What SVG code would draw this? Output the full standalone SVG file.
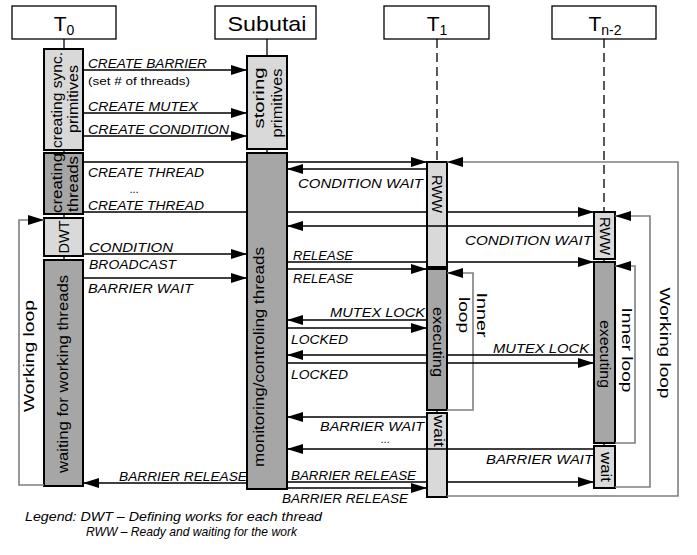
<svg xmlns="http://www.w3.org/2000/svg" width="697" height="555" viewBox="0 0 697 555">
<defs>
<marker id="ah" markerUnits="userSpaceOnUse" markerWidth="16" markerHeight="10" refX="16" refY="5" orient="auto">
<path d="M0,0 L16,5 L0,10 Z" fill="#000"/>
</marker>
<style>
text{font-family:"Liberation Sans",Arial,sans-serif;fill:#000}
.hd{stroke:#000;stroke-width:1.3;fill:#fff}
.ht{font-size:21px}
.lt{fill:#d9d9d9;stroke:#000;stroke-width:2}
.dk{fill:#a6a6a6;stroke:#000;stroke-width:2}
.bt{font-size:14px}
.life{stroke:#000;stroke-width:1.3;fill:none}
.dash{stroke:#000;stroke-width:1.3;stroke-dasharray:9,5;fill:none}
.c{stroke:#000;stroke-width:1.3;fill:none;marker-end:url(#ah)}
.loop{stroke:#7f7f7f;stroke-width:1.6;fill:none;marker-end:url(#ah)}
.lb{font-size:13.5px;font-style:italic}
.dots{font-size:11px;font-style:italic}
.lg{font-size:13px;font-style:italic}
</style>
</defs>
<rect width="697" height="555" fill="#fff"/>

<g id="T0">
<line class="life" x1="64" y1="39" x2="64" y2="486"/>
<rect class="hd" x="12" y="6" width="104" height="33"/>
<text class="ht" x="64" y="31" text-anchor="middle">T<tspan font-size="14" dy="4">0</tspan></text>
<rect class="lt" x="44" y="49" width="39" height="101"/>
<text class="bt" transform="translate(62,100) rotate(-90)" text-anchor="middle" textLength="96" lengthAdjust="spacingAndGlyphs">creating sync.</text>
<text class="bt" transform="translate(78,99) rotate(-90)" text-anchor="middle" textLength="68" lengthAdjust="spacingAndGlyphs">primitives</text>
<rect class="dk" x="44" y="153" width="39" height="61"/>
<text class="bt" transform="translate(62,183) rotate(-90)" text-anchor="middle" textLength="60" lengthAdjust="spacingAndGlyphs">creating</text>
<text class="bt" transform="translate(78,184) rotate(-90)" text-anchor="middle" textLength="56" lengthAdjust="spacingAndGlyphs">threads</text>
<rect class="lt" x="44" y="218" width="39" height="38"/>
<text class="bt" transform="translate(69,237) rotate(-90)" text-anchor="middle" textLength="33" lengthAdjust="spacingAndGlyphs">DWT</text>
<rect class="dk" x="44" y="260" width="39" height="226"/>
<text class="bt" transform="translate(68,374) rotate(-90)" text-anchor="middle" textLength="198" lengthAdjust="spacingAndGlyphs">waiting for working threads</text>
</g>

<g id="Subutai">
<line class="life" x1="267" y1="39" x2="267" y2="153"/>
<rect class="hd" x="215" y="6" width="101" height="33"/>
<text class="ht" x="267" y="31" text-anchor="middle" textLength="79" lengthAdjust="spacingAndGlyphs">Subutai</text>
<rect class="lt" x="247" y="56" width="40" height="93"/>
<text class="bt" transform="translate(264,98) rotate(-90)" text-anchor="middle" textLength="61" lengthAdjust="spacingAndGlyphs">storing</text>
<text class="bt" transform="translate(282,103) rotate(-90)" text-anchor="middle" textLength="69" lengthAdjust="spacingAndGlyphs">primitives</text>
<rect class="dk" x="247" y="153" width="40" height="336"/>
<text class="bt" transform="translate(264,357) rotate(-90)" text-anchor="middle" textLength="220" lengthAdjust="spacingAndGlyphs">monitoring/controling threads</text>
</g>

<g id="T1">
<line class="dash" x1="437" y1="39" x2="437" y2="162"/>
<line class="life" x1="437" y1="162" x2="437" y2="497"/>
<rect class="hd" x="384" y="6" width="105" height="33"/>
<text class="ht" x="437" y="31" text-anchor="middle">T<tspan font-size="14" dy="4">1</tspan></text>
<rect class="lt" x="427" y="162" width="20" height="105"/>
<text class="bt" transform="translate(432,194) rotate(90)" text-anchor="middle" textLength="38" lengthAdjust="spacingAndGlyphs">RWW</text>
<rect class="dk" x="427" y="269" width="20" height="141"/>
<text class="bt" transform="translate(433,342) rotate(90)" text-anchor="middle" textLength="70" lengthAdjust="spacingAndGlyphs">executing</text>
<rect class="lt" x="427" y="413" width="20" height="84"/>
<text class="bt" transform="translate(434,431) rotate(90)" text-anchor="middle" textLength="32" lengthAdjust="spacingAndGlyphs">wait</text>
</g>

<g id="Tn2">
<line class="dash" x1="604" y1="39" x2="604" y2="212"/>
<line class="life" x1="604" y1="212" x2="604" y2="488"/>
<rect class="hd" x="552" y="6" width="104" height="33"/>
<text class="ht" x="605" y="31" text-anchor="middle">T<tspan font-size="14" dy="4">n-2</tspan></text>
<rect class="lt" x="594" y="212" width="21" height="47" stroke-width="2.5"/>
<text class="bt" transform="translate(600,236) rotate(90)" text-anchor="middle" textLength="38" lengthAdjust="spacingAndGlyphs">RWW</text>
<rect class="dk" x="594" y="262" width="21" height="181"/>
<text class="bt" transform="translate(600,354) rotate(90)" text-anchor="middle" textLength="68" lengthAdjust="spacingAndGlyphs">executing</text>
<rect class="lt" x="594" y="446" width="21" height="42"/>
<text class="bt" transform="translate(601,467) rotate(90)" text-anchor="middle" textLength="30" lengthAdjust="spacingAndGlyphs">wait</text>
</g>

<g id="loops">
<path class="loop" d="M44,485 H19 V220 H44"/>
<text style="font-size:15px" transform="translate(34,356) rotate(-90)" text-anchor="middle" textLength="112" lengthAdjust="spacingAndGlyphs">Working loop</text>
<path class="loop" d="M447,410 H473 V273 H447"/>
<text class="bt" transform="translate(477,315) rotate(90)" text-anchor="middle" textLength="45" lengthAdjust="spacingAndGlyphs">Inner</text>
<text class="bt" transform="translate(459,315) rotate(90)" text-anchor="middle" textLength="36" lengthAdjust="spacingAndGlyphs">loop</text>
<path class="loop" d="M615,443 H635 V266 H615"/>
<text class="bt" transform="translate(622,350) rotate(90)" text-anchor="middle" textLength="85" lengthAdjust="spacingAndGlyphs">Inner loop</text>
<path class="loop" d="M615,487 H650 V216 H615"/>
<text style="font-size:15px" transform="translate(660,343) rotate(90)" text-anchor="middle" textLength="111" lengthAdjust="spacingAndGlyphs">Working loop</text>
<path class="loop" d="M447,496 H678 V162 H447"/>
</g>

<g id="connectors">
<path class="c" d="M83,70 H247"/>
<path class="c" d="M83,113 H247"/>
<path class="c" d="M83,136 H247"/>
<path class="c" d="M83,162 H247 M287,162 H427"/>
<path class="c" d="M83,212 H247 M287,212 H427 M447,212 H594"/>
<path class="c" d="M427,169 H287"/>
<path class="c" d="M594,226 H287"/>
<path class="c" d="M83,254 H247"/>
<path class="c" d="M83,278 H247"/>
<path class="c" d="M287,262 H427 M447,262 H594"/>
<path class="c" d="M287,269 H427"/>
<path class="c" d="M427,320 H287"/>
<path class="c" d="M287,328 H427"/>
<path class="c" d="M594,355 H447 M427,355 H287"/>
<path class="c" d="M287,363 H427 M447,363 H594"/>
<path class="c" d="M427,417 H287"/>
<path class="c" d="M594,449 H287"/>
<path class="c" d="M247,483 H83"/>
<path class="c" d="M287,482 H427 M447,482 H594"/>
<path class="c" d="M287,488 H427"/>
</g>

<g id="labels">
<text class="lb" x="88" y="68" textLength="119" lengthAdjust="spacingAndGlyphs">CREATE BARRIER</text>
<text x="88" y="85" style="font-size:11.5px" textLength="102" lengthAdjust="spacingAndGlyphs">(set # of threads)</text>
<text class="lb" x="88" y="111" textLength="110" lengthAdjust="spacingAndGlyphs">CREATE MUTEX</text>
<text class="lb" x="88" y="134" textLength="141" lengthAdjust="spacingAndGlyphs">CREATE CONDITION</text>
<text class="lb" x="88" y="177" textLength="116" lengthAdjust="spacingAndGlyphs">CREATE THREAD</text>
<text class="dots" x="130" y="193">...</text>
<text class="lb" x="88" y="210" textLength="116" lengthAdjust="spacingAndGlyphs">CREATE THREAD</text>
<text class="lb" x="89" y="252" textLength="84" lengthAdjust="spacingAndGlyphs">CONDITION</text>
<text class="lb" x="89" y="269" textLength="87" lengthAdjust="spacingAndGlyphs">BROADCAST</text>
<text class="lb" x="88" y="293" textLength="105" lengthAdjust="spacingAndGlyphs">BARRIER WAIT</text>
<text class="lb" x="298" y="188" textLength="125" lengthAdjust="spacingAndGlyphs">CONDITION WAIT</text>
<text class="lb" x="465" y="245" textLength="127" lengthAdjust="spacingAndGlyphs">CONDITION WAIT</text>
<text class="lb" x="293" y="260" textLength="60" lengthAdjust="spacingAndGlyphs">RELEASE</text>
<text class="lb" x="293" y="283" textLength="60" lengthAdjust="spacingAndGlyphs">RELEASE</text>
<text class="lb" x="330" y="317" textLength="95" lengthAdjust="spacingAndGlyphs">MUTEX LOCK</text>
<text class="lb" x="291" y="344" textLength="57" lengthAdjust="spacingAndGlyphs">LOCKED</text>
<text class="lb" x="493" y="353" textLength="96" lengthAdjust="spacingAndGlyphs">MUTEX LOCK</text>
<text class="lb" x="291" y="379" textLength="57" lengthAdjust="spacingAndGlyphs">LOCKED</text>
<text class="lb" x="320" y="431" textLength="104" lengthAdjust="spacingAndGlyphs">BARRIER WAIT</text>
<text class="dots" x="381" y="443">...</text>
<text class="lb" x="486" y="464" textLength="107" lengthAdjust="spacingAndGlyphs">BARRIER WAIT</text>
<text class="lb" x="119" y="481" textLength="128" lengthAdjust="spacingAndGlyphs">BARRIER RELEASE</text>
<text class="lb" x="291" y="480" textLength="125" lengthAdjust="spacingAndGlyphs">BARRIER RELEASE</text>
<text class="lb" x="282" y="503" textLength="126" lengthAdjust="spacingAndGlyphs">BARRIER RELEASE</text>
</g>

<g id="legend">
<text class="lg" x="25" y="521" textLength="297" lengthAdjust="spacingAndGlyphs">Legend: DWT – Defining works for each thread</text>
<text class="lg" x="86" y="536" textLength="211" lengthAdjust="spacingAndGlyphs">RWW – Ready and waiting for the work</text>
</g>
</svg>
